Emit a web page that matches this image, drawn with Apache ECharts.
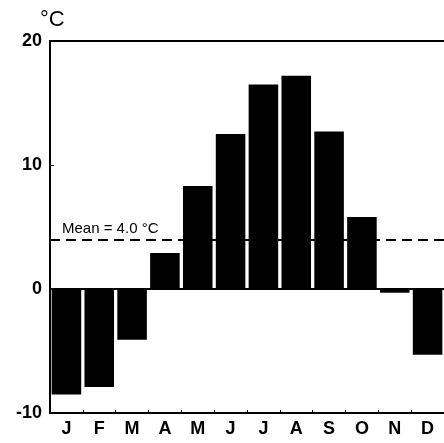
<!DOCTYPE html>
<html>
<head>
<meta charset="utf-8">
<script src="https://cdn.jsdelivr.net/npm/echarts@6/dist/echarts.min.js"></script>
<style>
  html, body { margin: 0; padding: 0; background: #fff; }
  #chart { width: 444px; height: 443px; }
</style>
</head>
<body>
<div id="chart"></div>
<script>
// monthly mean temperature, deg C
const months = ['J', 'F', 'M', 'A', 'M', 'J', 'J', 'A', 'S', 'O', 'N', 'D'];
const temps = [-8.5, -7.9, -4.1, 2.9, 8.3, 12.5, 16.5, 17.2, 12.7, 5.8, -0.3, -5.3];
const meanTemp = 4.0;
const yTicks = [-10, 0, 10, 20];

const font = 'Liberation Sans, Arial, sans-serif';
const chart = echarts.init(document.getElementById('chart'));

const option = {
  animation: false,
  grid: { left: 50, top: 41, width: 400, height: 372 },
  graphic: [
    {
      type: 'text',
      left: 40,
      top: 9,
      style: { text: '°C', fill: '#000', font: '22px ' + font }
    }
  ],
  xAxis: [
    {
      type: 'category',
      data: months,
      position: 'bottom',
      axisLine: { onZero: false, lineStyle: { color: '#000', width: 2 } },
      axisTick: { show: true, inside: true, length: 3, lineStyle: { color: '#000' } },
      axisLabel: { color: '#000', fontFamily: font, fontSize: 18, fontWeight: 600, margin: 7 }
    },
    {
      type: 'category',
      data: months,
      position: 'top',
      axisLine: { onZero: false, lineStyle: { color: '#000', width: 2 } },
      axisTick: { show: false },
      axisLabel: { show: false }
    }
  ],
  yAxis: {
    type: 'value',
    min: yTicks[0],
    max: yTicks[yTicks.length - 1],
    interval: 10,
    axisLine: { show: true, lineStyle: { color: '#000', width: 2 } },
    axisTick: { show: true, inside: true, length: 4, lineStyle: { color: '#000' } },
    axisLabel: { color: '#000', fontFamily: font, fontSize: 18, fontWeight: 600, margin: 8 },
    splitLine: { show: false }
  },
  series: [
    {
      type: 'bar',
      data: temps,
      z: 3,
      barCategoryGap: '10%',
      itemStyle: { color: '#000' }
    },
    {
      type: 'line',
      data: [],
      z: 1,
      markLine: {
        z: 1,
        silent: true,
        symbol: 'none',
        lineStyle: { color: '#000', type: [10, 6], width: 2 },
        label: {
          position: 'insideStartTop',
          formatter: 'Mean = 4.0 °C',
          color: '#000',
          fontFamily: font,
          fontSize: 15,
          distance: [12, 3]
        },
        data: [{ yAxis: meanTemp }]
      }
    },
    {
      type: 'line',
      data: [],
      markLine: {
        silent: true,
        symbol: 'none',
        lineStyle: { color: '#000', type: 'solid', width: 2 },
        label: { show: false },
        data: [{ yAxis: 0 }]
      }
    }
  ]
};
chart.setOption(option);
</script>
</body>
</html>
